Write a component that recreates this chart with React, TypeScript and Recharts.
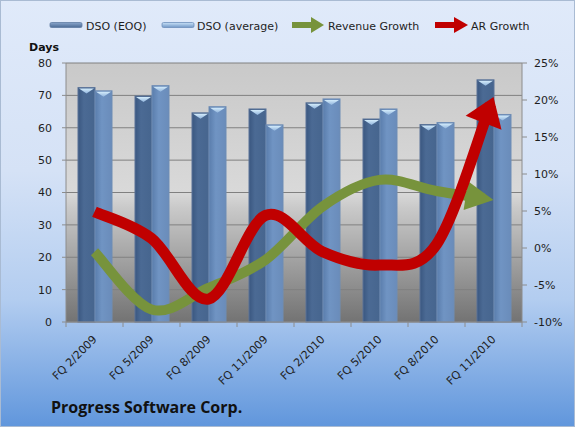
import React from 'react';
import { ComposedChart, Bar, Line, XAxis, YAxis, CartesianGrid } from 'recharts';

const categories = ['FQ 2/2009', 'FQ 5/2009', 'FQ 8/2009', 'FQ 11/2009', 'FQ 2/2010', 'FQ 5/2010', 'FQ 8/2010', 'FQ 11/2010'];
const dsoEoq = [72.4, 69.8, 64.6, 65.8, 67.7, 62.7, 61.0, 74.8];
const dsoAvg = [71.4, 73.0, 66.5, 60.9, 68.9, 65.8, 61.6, 64.1];
const revenueGrowth = [-0.5, -8.3, -5.4, -1.6, 5.6, 9.2, 7.7, 6.5];
const arGrowth = [4.9, 1.3, -6.9, 4.4, -0.5, -2.3, 0.5, 20.4];
const daysTicks = [0, 10, 20, 30, 40, 50, 60, 70, 80];
const pctTicks = [-10, -5, 0, 5, 10, 15, 20, 25];

const data = categories.map((c, i) => ({
  cat: c,
  eoq: dsoEoq[i],
  avg: dsoAvg[i],
  rev: revenueGrowth[i],
  ar: arGrowth[i],
}));

const W = 575;
const H = 427;
const LEFT_W = 66;
const RIGHT_W = 53;
const TOP = 63;
const XAXIS_H = 105;
const PLOT_W = W - LEFT_W - RIGHT_W;
const HALF_BAND = PLOT_W / categories.length / 2;
const FONT = "'DejaVu Sans', Verdana, sans-serif";
const GREEN = '#77933c';
const RED = '#c00000';
const AXIS = '#8c8c8c';

// arrow geometry in stroke-width units
const G_SW = 10, G_LEN = 2.8, G_HALF = 1.45, G_REF = 1.83;
const R_SW = 11, R_LEN = 2.5, R_HALF = 1.75, R_REF = 1.79;

function makeCurve(shorten: number) {
  return function curve(context: any) {
    let pts: number[][] = [];
    return {
      areaStart() {},
      areaEnd() {},
      lineStart() {
        pts = [];
      },
      point(x: number, y: number) {
        pts.push([+x, +y]);
      },
      lineEnd() {
        const n = pts.length;
        if (!n) return;
        context.moveTo(pts[0][0], pts[0][1]);
        for (let i = 0; i < n - 1; i++) {
          const p0 = pts[i - 1] || pts[i];
          const p1 = pts[i];
          let p2 = pts[i + 1];
          const p3 = pts[i + 2] || pts[i + 1];
          const c1x = p1[0] + (p2[0] - p0[0]) / 6;
          const c1y = p1[1] + (p2[1] - p0[1]) / 6;
          let c2x = p2[0] - (p3[0] - p1[0]) / 6;
          let c2y = p2[1] - (p3[1] - p1[1]) / 6;
          if (i === n - 2 && shorten > 0) {
            const dx = p2[0] - p1[0];
            const dy = p2[1] - p1[1];
            const len = Math.hypot(dx, dy) || 1;
            const ex = p2[0] - (dx / len) * shorten;
            const ey = p2[1] - (dy / len) * shorten;
            c2x = ex - dx / 6;
            c2y = ey - dy / 6;
            p2 = [ex, ey];
          }
          context.bezierCurveTo(c1x, c1y, c2x, c2y, p2[0], p2[1]);
        }
      },
    };
  };
}

const greenCurve = makeCurve((G_LEN - G_REF) * G_SW);
const redCurve = makeCurve((R_LEN - R_REF) * R_SW);

const BarShape = (props: any) => {
  const { x, y, width, height, gradId, stroke } = props;
  if (!height || height <= 0) return null;
  const cap = Math.min(6, height);
  return (
    <g>
      <rect x={x} y={y} width={width} height={height} fill={`url(#${gradId})`} stroke={stroke} strokeWidth={1} />
      <polygon
        points={`${x + 1},${y + 1} ${x + width - 1},${y + 1} ${x + width / 2},${y + cap}`}
        fill="url(#capGrad)"
      />
    </g>
  );
};

const XTick = (props: any) => {
  const { x, y, payload, index } = props;
  const ax = x + 3;
  const ay = y + 18;
  return (
    <g>
      <line x1={x - HALF_BAND} x2={x - HALF_BAND} y1={y} y2={y + 5} stroke={AXIS} />
      {index === categories.length - 1 && (
        <line x1={x + HALF_BAND} x2={x + HALF_BAND} y1={y} y2={y + 5} stroke={AXIS} />
      )}
      <text
        x={ax}
        y={ay}
        textAnchor="end"
        transform={`rotate(-45 ${ax} ${ay})`}
        fontSize={11}
        fontFamily={FONT}
        fill="#1e1e1e"
      >
        {payload.value}
      </text>
    </g>
  );
};

const Defs = () => (
  <svg width={0} height={0} style={{ position: 'absolute' }}>
    <defs>
      <linearGradient id="plotGrad" x1="0" y1="0" x2="0" y2="1">
        <stop offset="0" stopColor="#c9c9c9" />
        <stop offset="0.5" stopColor="#d9d9d9" />
        <stop offset="0.56" stopColor="#c9c9c9" />
        <stop offset="1" stopColor="#737373" />
      </linearGradient>
      <linearGradient id="eoqGrad" x1="0" y1="0" x2="1" y2="0">
        <stop offset="0" stopColor="#3a5780" />
        <stop offset="0.35" stopColor="#4b6a94" />
        <stop offset="1" stopColor="#46658e" />
      </linearGradient>
      <linearGradient id="avgGrad" x1="0" y1="0" x2="1" y2="0">
        <stop offset="0" stopColor="#5a7dac" />
        <stop offset="0.4" stopColor="#7094c3" />
        <stop offset="1" stopColor="#6a8cba" />
      </linearGradient>
      <linearGradient id="capGrad" x1="0" y1="0" x2="0" y2="1">
        <stop offset="0" stopColor="#d4ecfb" />
        <stop offset="1" stopColor="#8fb3dc" />
      </linearGradient>
      <linearGradient id="legEoq" x1="0" y1="0" x2="0" y2="1">
        <stop offset="0" stopColor="#8aa6cc" />
        <stop offset="1" stopColor="#4a6a94" />
      </linearGradient>
      <linearGradient id="legAvg" x1="0" y1="0" x2="0" y2="1">
        <stop offset="0" stopColor="#c9e2f8" />
        <stop offset="1" stopColor="#7197c6" />
      </linearGradient>
      <marker
        id="arrowGreen"
        markerUnits="strokeWidth"
        markerWidth={G_LEN}
        markerHeight={G_HALF * 2}
        refX={G_REF}
        refY={G_HALF}
        orient="auto"
        style={{ overflow: 'visible' }}
      >
        <path d={`M0,0 L${G_LEN},${G_HALF} L0,${G_HALF * 2} z`} fill={GREEN} />
      </marker>
      <marker
        id="arrowRed"
        markerUnits="strokeWidth"
        markerWidth={R_LEN}
        markerHeight={R_HALF * 2}
        refX={R_REF}
        refY={R_HALF}
        orient="auto"
        style={{ overflow: 'visible' }}
      >
        <path d={`M0,0 L${R_LEN},${R_HALF} L0,${R_HALF * 2} z`} fill={RED} />
      </marker>
    </defs>
  </svg>
);

const Overlay = () => (
  <svg
    width={W}
    height={H}
    style={{ position: 'absolute', left: 0, top: 0, pointerEvents: 'none' }}
    fontFamily={FONT}
  >
    <rect x={50} y={22.5} width={32} height={5} rx={1.5} fill="url(#legEoq)" stroke="#5f7ca3" strokeWidth={0.8} />
    <text x={86} y={29.5} fontSize={11} fill="#1e1e1e">DSO (EOQ)</text>
    <rect x={162} y={22.5} width={32} height={5} rx={1.5} fill="url(#legAvg)" stroke="#6d8fbb" strokeWidth={0.8} />
    <text x={197} y={29.5} fontSize={11} fill="#1e1e1e">DSO (average)</text>
    <line x1={292} x2={313} y1={25} y2={25} stroke={GREEN} strokeWidth={6} />
    <polygon points="311,17 324,25 311,33" fill={GREEN} />
    <text x={328} y={29.5} fontSize={11} fill="#1e1e1e">Revenue Growth</text>
    <line x1={435} x2={456} y1={25} y2={25} stroke={RED} strokeWidth={6} />
    <polygon points="454,17 468,25 454,33" fill={RED} />
    <text x={471} y={29.5} fontSize={11} fill="#1e1e1e">AR Growth</text>
    <text x={29} y={51} fontSize={11} fontWeight="bold" fill="#111">Days</text>
    <text x={51} y={413} fontSize={16} fontWeight="bold" fill="#111" fontFamily="'Open Sans', 'DejaVu Sans', sans-serif">
      Progress Software Corp.
    </text>
  </svg>
);

export default function App() {
  return (
    <div
      style={{
        position: 'absolute',
        left: 0,
        top: 0,
        width: W,
        height: H,
        background: 'linear-gradient(to bottom, #e0eafa 0%, #d5e2f6 40%, #b3cdf0 70%, #6096dc 100%)',
        boxShadow: 'inset 0 0 0 1px #a9bbd3',
      }}
    >
      <Defs />
      <ComposedChart
        width={W}
        height={H}
        data={data}
        margin={{ top: TOP, right: 0, bottom: 0, left: 0 }}
        barCategoryGap={12}
        barGap={0}
      >
        <CartesianGrid
          yAxisId="left"
          vertical={false}
          stroke="#808080"
          fill="url(#plotGrad)"
          fillOpacity={1}
        />
        <XAxis
          dataKey="cat"
          height={XAXIS_H}
          interval={0}
          tickLine={false}
          tickSize={0}
          tickMargin={0}
          axisLine={{ stroke: AXIS }}
          tick={<XTick />}
        />
        <YAxis
          yAxisId="left"
          width={LEFT_W}
          domain={[0, 80]}
          ticks={daysTicks}
          interval={0}
          tickSize={4}
          tickMargin={10}
          axisLine={{ stroke: AXIS }}
          tickLine={{ stroke: AXIS }}
          tick={{ fontSize: 11, fill: '#1e1e1e', fontFamily: FONT }}
        />
        <YAxis
          yAxisId="right"
          orientation="right"
          width={RIGHT_W}
          domain={[-10, 25]}
          ticks={pctTicks}
          interval={0}
          tickSize={5}
          tickMargin={7}
          tickFormatter={(v: number) => `${v}%`}
          axisLine={{ stroke: AXIS }}
          tickLine={{ stroke: AXIS }}
          tick={{ fontSize: 11, fill: '#1e1e1e', fontFamily: FONT }}
        />
        <Bar
          yAxisId="left"
          dataKey="eoq"
          name="DSO (EOQ)"
          isAnimationActive={false}
          shape={(p: any) => <BarShape {...p} gradId="eoqGrad" stroke="#5a7398" />}
        />
        <Bar
          yAxisId="left"
          dataKey="avg"
          name="DSO (average)"
          isAnimationActive={false}
          shape={(p: any) => <BarShape {...p} gradId="avgGrad" stroke="#6f8db5" />}
        />
        <Line
          yAxisId="right"
          dataKey="rev"
          name="Revenue Growth"
          type={greenCurve as any}
          stroke={GREEN}
          strokeWidth={G_SW}
          dot={false}
          activeDot={false}
          markerEnd="url(#arrowGreen)"
          isAnimationActive={false}
        />
        <Line
          yAxisId="right"
          dataKey="ar"
          name="AR Growth"
          type={redCurve as any}
          stroke={RED}
          strokeWidth={R_SW}
          dot={false}
          activeDot={false}
          markerEnd="url(#arrowRed)"
          isAnimationActive={false}
        />
      </ComposedChart>
      <Overlay />
    </div>
  );
}
